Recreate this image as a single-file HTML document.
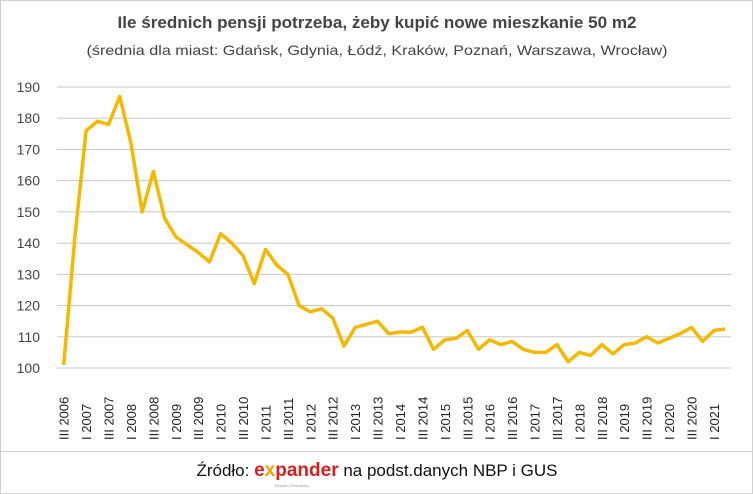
<!DOCTYPE html>
<html><head><meta charset="utf-8"><style>
html,body{margin:0;padding:0;background:#fff}
svg{display:block}
text{font-family:"Liberation Sans",sans-serif}
</style></head><body>
<svg width="753" height="494" viewBox="0 0 753 494" xmlns="http://www.w3.org/2000/svg">
<rect x="0.5" y="0.5" width="752" height="493" fill="#fff" stroke="#d0d0d0"/>
<line x1="0" y1="451.5" x2="753" y2="451.5" stroke="#d0d0d0"/>
<text x="377" y="28" text-anchor="middle" font-size="17" font-weight="bold" fill="#444" textLength="519" lengthAdjust="spacingAndGlyphs">Ile średnich pensji potrzeba, żeby kupić nowe mieszkanie 50 m2</text>
<text x="377" y="55" text-anchor="middle" font-size="14" fill="#444" textLength="581" lengthAdjust="spacingAndGlyphs">(średnia dla miast: Gdańsk, Gdynia, Łódź, Kraków, Poznań, Warszawa, Wrocław)</text>
<g id="grid" stroke="#c8c8c8" stroke-width="1"></g>
<g id="yl" font-size="14" fill="#444" text-anchor="end"></g>
<g id="xl" font-size="13" fill="#222"></g>
<polyline id="ln" fill="none" stroke="#f5b800" stroke-width="3.5" stroke-linejoin="round"/>
<text x="377" y="476" text-anchor="middle" font-size="17" fill="#111"><tspan>Źródło: </tspan><tspan fill="#d42020" font-weight="bold" font-size="19">e</tspan><tspan fill="#f5a000" font-weight="bold" font-size="19">x</tspan><tspan fill="#d42020" font-weight="bold" font-size="19">pander</tspan><tspan> na podst.danych NBP i GUS</tspan></text>
<text x="275" y="487" font-size="4" fill="#999">Ekspert Finansowy</text>
</svg>
<script>
var ns="http://www.w3.org/2000/svg";
function y(v){return 368-(v-100)*3.122;}
var g=document.getElementById('grid'),yl=document.getElementById('yl'),xl=document.getElementById('xl');
for(var v=100;v<=190;v+=10){
 var l=document.createElementNS(ns,'line');l.setAttribute('x1',57);l.setAttribute('x2',731);l.setAttribute('y1',y(v));l.setAttribute('y2',y(v));g.appendChild(l);
 var t=document.createElementNS(ns,'text');t.setAttribute('x',40);t.setAttribute('y',y(v)+5);t.textContent=v;yl.appendChild(t);
}
var d=[101,142,176,179,178,187,172,150,163,148,142,139.5,137,134,143,140,136,127,138,133,130,120,118,119,116,107,113,114,115,111,111.5,111.5,113,106,109,109.5,112,106,109,107.5,108.5,106,105,105,107.5,102,105,104,107.5,104.5,107.5,108,110,108,109.5,111,113,108.5,112,112.5];
function x(i){return 63.7+i*11.21;}
document.getElementById('ln').setAttribute('points',d.map(function(v,i){return x(i)+','+y(v)}).join(' '));
for(var i=0;i<60;i+=2){
 var yr=2006+Math.floor((i+2)/4);var q=(i%4==0)?'III ':'I ';
 var t=document.createElementNS(ns,'text');var xx=x(i)+5;
 t.setAttribute('transform','translate('+xx+',440) rotate(-90)');t.textContent=q+yr;xl.appendChild(t);
}
</script>
</body></html>
